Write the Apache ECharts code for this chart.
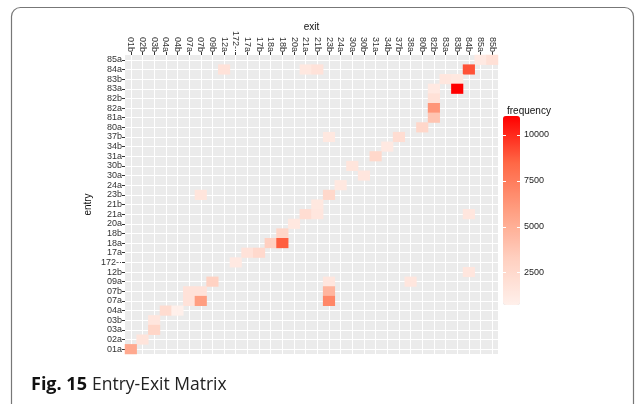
<!DOCTYPE html>
<html>
<head>
<meta charset="utf-8">
<script src="https://cdn.jsdelivr.net/npm/echarts@6/dist/echarts.min.js"></script>
<style>
  html, body { margin: 0; padding: 0; background: #fff; }
  #chart { width: 635px; height: 404px; }
</style>
</head>
<body>
<div id="chart"></div>
<script>
// exit stations (x axis, left to right)
const exits = ['01b', '02b', '03b', '04a', '04b', '07a', '07b', '09b', '12a', '172-·',
  '17a', '17b', '18a', '18b', '20a', '21a', '21b', '23b', '24a', '30a', '30b', '31a',
  '34b', '37b', '38a', '80b', '82b', '83a', '83b', '84b', '85a', '85b'];

// entry stations (y axis, bottom to top)
const entries = ['01a', '02a', '03a', '03b', '04a', '07a', '07b', '09a', '12b', '172-·',
  '17a', '18a', '18b', '20a', '21a', '21b', '23b', '24a', '30a', '30b', '31a', '34b',
  '37b', '80a', '81a', '82a', '82b', '83a', '83b', '84a', '85a'];

// [entry, exit, frequency]
const cells = [
  ['85a', '85a', 1300], ['85a', '85b', 2000],
  ['84a', '12a', 1800], ['84a', '21a', 1400], ['84a', '21b', 1800], ['84a', '84b', 9000],
  ['83b', '83a', 1500], ['83b', '83b', 1400],
  ['83a', '82b', 1300], ['83a', '83b', 11030],
  ['82b', '82b', 1900],
  ['82a', '82b', 6300],
  ['81a', '82b', 3900],
  ['80a', '80b', 2700],
  ['37b', '23b', 1400], ['37b', '37b', 2200],
  ['34b', '34b', 1300],
  ['31a', '31a', 2600],
  ['30b', '30a', 1600],
  ['30a', '30b', 1500],
  ['24a', '24a', 1400],
  ['23b', '07b', 1600], ['23b', '23b', 2600],
  ['21b', '21b', 1400],
  ['21a', '21a', 2200], ['21a', '21b', 1500], ['21a', '84b', 1500],
  ['20a', '20a', 1400],
  ['18b', '18b', 2800],
  ['18a', '18a', 3200], ['18a', '18b', 8700],
  ['17a', '17a', 1800], ['17a', '17b', 2500],
  ['172-·', '172-·', 1300],
  ['12b', '84b', 1500],
  ['09a', '09b', 3100], ['09a', '23b', 1500], ['09a', '38a', 1500],
  ['07b', '07a', 1800], ['07b', '07b', 1800], ['07b', '23b', 4700],
  ['07a', '07a', 1800], ['07a', '07b', 5900], ['07a', '23b', 7000],
  ['04a', '04a', 2300], ['04a', '04b', 745],
  ['03b', '03b', 1500],
  ['03a', '03b', 2800],
  ['02a', '02b', 1700],
  ['01a', '01b', 5300]
];

const legendTicks = [2500, 5000, 7500, 10000];

const freqs = cells.map(c => c[2]);
const fMin = Math.min(...freqs);
const fMax = Math.max(...freqs);

const heatData = cells.map(c => [exits.indexOf(c[1]), entries.indexOf(c[0]), c[2]]);

// grid lines sit on the category centres, like ggplot
const xCentres = exits.map((_, i) => i);
const yCentres = entries.map((_, i) => i);

const chart = echarts.init(document.getElementById('chart'), null, { renderer: 'canvas' });

const axisFont = { fontFamily: 'Liberation Sans', fontSize: 9, color: '#333' };

const option = {
  animation: false,
  backgroundColor: '#fff',
  title: [{
    text: '{b|Fig. 15} {r|Entry-Exit Matrix}',
    left: 26,
    top: 371,
    textStyle: {
      rich: {
        b: { fontFamily: 'Open Sans', fontWeight: 'bold', fontSize: 18, color: '#111' },
        r: { fontFamily: 'Open Sans', fontWeight: 'normal', fontSize: 17.5, color: '#222' }
      }
    }
  }, {
    text: 'frequency',
    left: 502,
    top: 101,
    textStyle: { fontFamily: 'Liberation Sans', fontSize: 10, fontWeight: 'normal', color: '#111' }
  }],
  graphic: [{
    type: 'rect',
    shape: { x: 11.5, y: 7.5, width: 622, height: 460, r: 9 },
    style: { fill: null, stroke: '#777', lineWidth: 1.2 },
    silent: true
  }],
  grid: [
    { left: 125, top: 55, right: 137, bottom: 50, show: true, backgroundColor: '#ebebeb', borderWidth: 0 },
    { left: 503, top: 116, width: 17, height: 189, show: false }
  ],
  xAxis: [{
    type: 'category', gridIndex: 0, data: exits, position: 'top',
    name: 'exit', nameLocation: 'middle', nameGap: 23, nameMoveOverlap: false,
    nameTextStyle: { fontFamily: 'Liberation Sans', fontSize: 10, color: '#111' },
    axisLine: { show: false, onZero: false },
    axisTick: { show: true, alignWithLabel: true, length: 3, lineStyle: { color: '#333' } },
    axisLabel: Object.assign({ rotate: 90, margin: 3, interval: 0 }, axisFont),
    splitLine: { show: false }
  }, {
    type: 'value', gridIndex: 0, min: -0.5, max: exits.length - 0.5, z: 0,
    position: 'bottom',
    axisLine: { show: false, onZero: false },
    axisTick: { show: false, customValues: xCentres },
    axisLabel: { show: false },
    splitLine: { show: true, lineStyle: { color: '#fff', width: 1 } }
  }, {
    type: 'value', gridIndex: 1, show: false, min: 0, max: 1
  }],
  yAxis: [{
    type: 'category', gridIndex: 0, data: entries,
    name: 'entry', nameLocation: 'middle', nameGap: 32, nameRotate: 90, nameMoveOverlap: false,
    nameTextStyle: { fontFamily: 'Liberation Sans', fontSize: 10, color: '#111' },
    axisLine: { show: false, onZero: false },
    axisTick: { show: true, alignWithLabel: true, length: 3, lineStyle: { color: '#333' } },
    axisLabel: Object.assign({ margin: 3, interval: 0 }, axisFont),
    splitLine: { show: false }
  }, {
    type: 'value', gridIndex: 0, min: -0.5, max: entries.length - 0.5, z: 0,
    position: 'right',
    axisLine: { show: false, onZero: false },
    axisTick: { show: false, customValues: yCentres },
    axisLabel: { show: false },
    splitLine: { show: true, lineStyle: { color: '#fff', width: 1 } }
  }, {
    type: 'value', gridIndex: 1, min: fMin, max: fMax, position: 'left', z: 10,
    axisLine: { show: false, onZero: false },
    axisTick: { show: true, inside: true, length: 3, customValues: legendTicks, lineStyle: { color: '#fff', width: 1 } },
    axisLabel: { show: false },
    splitLine: { show: false }
  }, {
    type: 'value', gridIndex: 1, min: fMin, max: fMax, position: 'right', z: 10,
    axisLine: { show: false, onZero: false },
    axisTick: { show: true, inside: true, length: 3, customValues: legendTicks, lineStyle: { color: '#fff', width: 1 } },
    axisLabel: {
      show: true, margin: 4, customValues: legendTicks,
      fontFamily: 'Liberation Sans', fontSize: 9, color: '#222',
      formatter: v => String(v)
    },
    splitLine: { show: false }
  }],
  visualMap: {
    type: 'continuous',
    seriesIndex: 0,
    min: fMin,
    max: fMax,
    calculable: false,
    hoverLink: false,
    orient: 'vertical',
    left: 503,
    top: 116,
    itemWidth: 17,
    itemHeight: 189,
    padding: 0,
    text: null,
    showLabel: false,
    inRange: {
      color: ['#fff0eb', '#ffcfbf', '#ff9e81', '#ff6846', '#ff0000'],
      opacity: 1
    }
  },
  series: [{
    type: 'heatmap',
    xAxisIndex: 0,
    yAxisIndex: 0,
    zlevel: 1,
    z: 10,
    progressive: 0,
    data: heatData,
    itemStyle: { opacity: 1, borderWidth: 0 },
    label: { show: false },
    emphasis: { disabled: true }
  }]
};

chart.setOption(option);
</script>
</body>
</html>
